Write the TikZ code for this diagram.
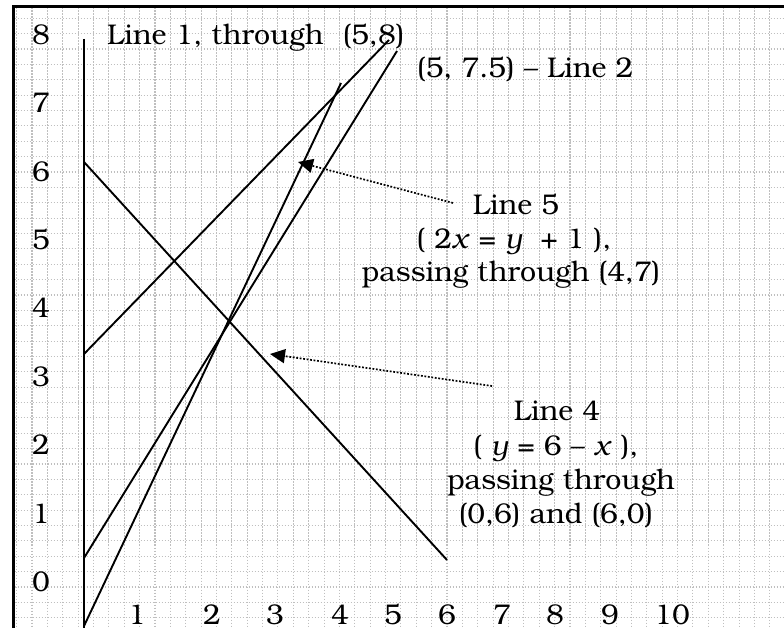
\documentclass[tikz,border=0pt]{standalone}
\usepackage{fontspec}
\setmainfont{texgyrebonum}[Extension=.otf,UprightFont=*-regular,ItalicFont=*-italic,BoldFont=*-bold,BoldItalicFont=*-bolditalic]
\usetikzlibrary{arrows.meta}
\begin{document}
\begin{tikzpicture}[x=1pt,y=-1pt,
  gridline/.style={draw=black!25,line width=1.1pt,dash pattern=on 1.1pt off 1.9pt},
  frameline/.style={line width=2.2pt},
  plotline/.style={line width=1.9pt},
  pointer/.style={line width=1.7pt,dash pattern=on 1.8pt off 1.7pt,-{Triangle[length=15pt,width=14pt]}},
  lbl/.style={inner sep=0pt,font=\fontsize{28.5}{34}\selectfont,anchor=base}]
\useasboundingbox (0,0) rectangle (784,628);
\fill[white] (0,0) rectangle (784,628);
% grid
\foreach \i in {0,...,50} \draw[gridline] ({16.65+15.37*\i},7.5) -- ({16.65+15.37*\i},628);
\foreach \j in {0,...,39} \draw[gridline] (14.5,{18.3+15.37*\j}) -- (784,{18.3+15.37*\j});
% frame
\coordinate (fbl) at (13.5,628);
\coordinate (ftl) at (13.5,6.5);
\coordinate (ftr) at (784,6.5);
\draw[frameline] (fbl) -- (ftl) -- (ftr);
% axis
\coordinate (axtop) at (84,39);
\coordinate (axbot) at (84,628);
\draw[plotline] (axtop) -- (axbot);
% y labels
\foreach \k in {0,...,8} \node[lbl] (y\k) at (41,{44.3+68.4*(8-\k)}) {\k};
% x labels
\foreach \k/\xx in {1/137,2/212,3/275,4/340,5/393,6/447,7/502,8/555,9/610,10/672}
  \node[lbl] (x\k) at (\xx,624) {\k};
% lines
\coordinate (l1a) at (84,354); \coordinate (l1b) at (389,40);
\coordinate (l2a) at (84,558); \coordinate (l2b) at (397,51);
\coordinate (l5a) at (84,626); \coordinate (l5b) at (341,83);
\coordinate (l4a) at (84,162); \coordinate (l4b) at (447,560);
\draw[plotline] (l1a) -- (l1b);
\draw[plotline] (l2a) -- (l2b);
\draw[plotline] (l5a) -- (l5b);
\draw[plotline] (l4a) -- (l4b);
% texts
\node[lbl,anchor=base west] (t1) at (107,44.3) {Line 1, through\hspace{10pt} (5,8)};
\node[lbl,anchor=base west] (t2) at (417,78) {(5, 7.5) – Line 2};
\node[lbl] (t5a) at (516,215) {Line 5};
\node[lbl] (t5b) at (514,249) {( 2\textit{x} = \textit{y}\ \ + 1 ),};
\node[lbl] (t5c) at (511,282) {passing through (4,7)};
\node[lbl] (t4a) at (557,420) {Line 4};
\node[lbl] (t4b) at (556,455) {( \textit{y} = 6 – \textit{x} ),};
\node[lbl] (t4c) at (561,489) {passing through};
\node[lbl] (t4d) at (556,523) {(0,6) and (6,0)};
% pointers
\coordinate (p5s) at (453,203); \coordinate (p5t) at (298,162);
\coordinate (p4s) at (492,386); \coordinate (p4t) at (270,354);
\draw[pointer] (p5s) -- (p5t);
\draw[pointer] (p4s) -- (p4t);
\end{tikzpicture}
\end{document}
